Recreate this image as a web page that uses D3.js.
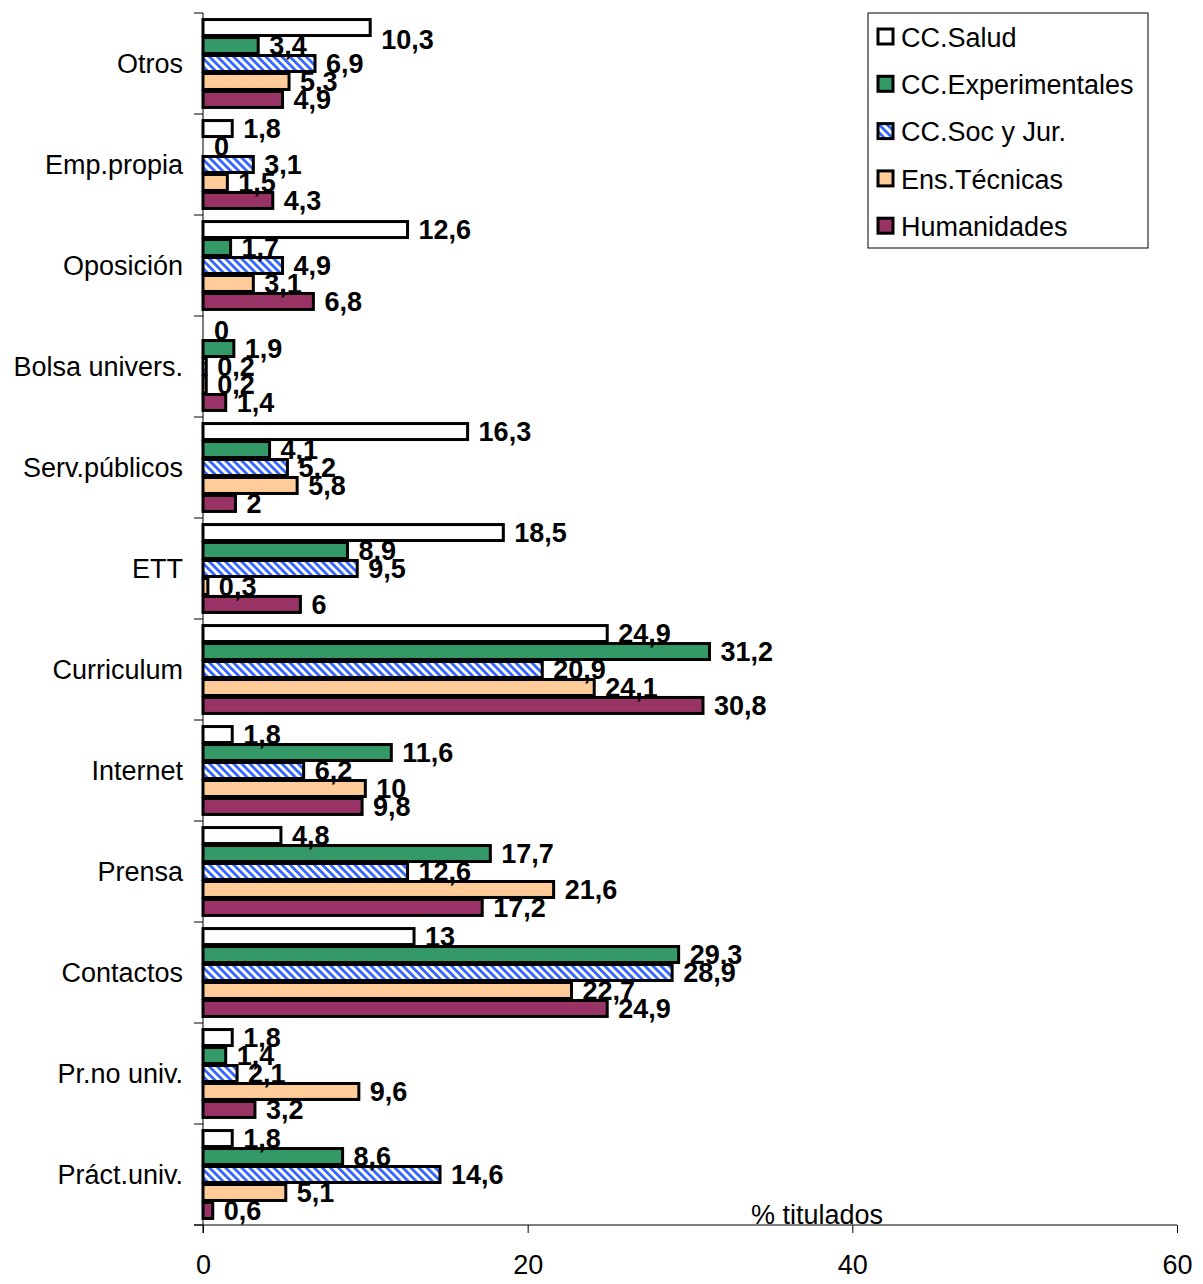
<!DOCTYPE html>
<html>
<head>
<meta charset="utf-8">
<script src="https://cdn.jsdelivr.net/npm/d3@7"></script>
<style>
  body { margin: 0; background: #fff; }
  text { font-family: "Liberation Sans", Arial, sans-serif; }
</style>
</head>
<body>
<div id="chart"></div>
<script>
//Categories (top to bottom) and series
var categories = ["Otros", "Emp.propia", "Oposición", "Bolsa univers.", "Serv.públicos", "ETT",
    "Curriculum", "Internet", "Prensa", "Contactos", "Pr.no univ.", "Práct.univ."];
var seriesNames = ["CC.Salud", "CC.Experimentales", "CC.Soc y Jur.", "Ens.Técnicas", "Humanidades"];

var salud = [10.3, 1.8, 12.6, 0, 16.3, 18.5, 24.9, 1.8, 4.8, 13, 1.8, 1.8];
var experimentales = [3.4, 0, 1.7, 1.9, 4.1, 8.9, 31.2, 11.6, 17.7, 29.3, 1.4, 8.6];
var socJur = [6.9, 3.1, 4.9, 0.2, 5.2, 9.5, 20.9, 6.2, 12.6, 28.9, 2.1, 14.6];
var tecnicas = [5.3, 1.5, 3.1, 0.2, 5.8, 0.3, 24.1, 10, 21.6, 22.7, 9.6, 5.1];
var humanidades = [4.9, 4.3, 6.8, 1.4, 2, 6, 30.8, 9.8, 17.2, 24.9, 3.2, 0.6];

var xTicks = [0, 20, 40, 60];

var seriesValues = [salud, experimentales, socJur, tecnicas, humanidades];
var fills = ["#ffffff", "#339966", "url(#hatch)", "#ffcc99", "#993366"];

var width = 1203, height = 1284;
var margin = {top: 13, left: 203, right: 26, bottom: 59};

var svg = d3.select("#chart").append("svg")
    .attr("width", width)
    .attr("height", height);

//Hatch pattern for CC.Soc y Jur.
var pat = svg.append("defs").append("pattern")
    .attr("id", "hatch")
    .attr("patternUnits", "userSpaceOnUse")
    .attr("width", 5.7)
    .attr("height", 5.7)
    .attr("patternTransform", "rotate(-45)");
pat.append("rect").attr("width", 5.7).attr("height", 5.7).attr("fill", "#fff");
pat.append("rect").attr("width", 2.8).attr("height", 5.7).attr("fill", "#3366ff");

var x = d3.scaleLinear().domain([0, 60]).range([margin.left, width - margin.right]);
var y = d3.scaleBand().domain(categories)
    .range([margin.top, height - margin.bottom])
    .paddingInner(0.11).paddingOuter(0.055);
var yInner = d3.scaleBand().domain(d3.range(seriesNames.length)).range([0, y.bandwidth()]);

var yBottom = height - margin.bottom;

//Bars
var groups = svg.selectAll(".cat")
    .data(categories)
    .enter().append("g")
    .attr("transform", function(d) { return "translate(0," + y(d) + ")"; });

groups.each(function(cat, ci) {
    d3.select(this).selectAll("rect")
        .data(seriesValues.map(function(s, si) { return {si: si, v: s[ci]}; }))
        .enter().append("rect")
        .attr("x", x(0))
        .attr("y", function(d) { return yInner(d.si) + 1; })
        .attr("width", function(d) { return x(d.v) - x(0); })
        .attr("height", yInner.bandwidth() - 2)
        .attr("fill", function(d) { return fills[d.si]; })
        .attr("stroke", "#000")
        .attr("stroke-width", 3);
});

//Value labels (drawn over the bars), kept a bit below the top of the plot
groups.each(function(cat, ci) {
    var top = y(cat);
    d3.select(this).selectAll("text")
        .data(seriesValues.map(function(s, si) { return {si: si, v: s[ci]}; }))
        .enter().append("text")
        .attr("x", function(d) { return x(d.v) + 11; })
        .attr("y", function(d) {
            var cy = yInner(d.si) + yInner.bandwidth() / 2;
            return Math.max(cy, margin.top + 26 - top);
        })
        .attr("dy", "0.36em")
        .style("font-size", "27px")
        .style("font-weight", "bold")
        .text(function(d) { return String(d.v).replace(".", ","); });
});

//Y axis
svg.append("line")
    .attr("x1", x(0)).attr("x2", x(0))
    .attr("y1", margin.top).attr("y2", yBottom + 8)
    .attr("stroke", "#000");
var bounds = categories.map(function(c) { return y(c) - y.step() * y.paddingInner() / 2; });
bounds[0] = margin.top;
bounds.push(yBottom);
svg.selectAll(".ytick")
    .data(bounds)
    .enter().append("line")
    .attr("x1", x(0) - 9).attr("x2", x(0))
    .attr("y1", function(d) { return d; }).attr("y2", function(d) { return d; })
    .attr("stroke", "#000");

svg.selectAll(".catLabel")
    .data(categories)
    .enter().append("text")
    .attr("x", x(0) - 20)
    .attr("y", function(d) { return y(d) + y.bandwidth() / 2; })
    .attr("dy", "0.36em")
    .attr("text-anchor", "end")
    .style("font-size", "27px")
    .text(function(d) { return d; });

//X axis
var xAxis = svg.append("g")
    .attr("transform", "translate(0," + yBottom + ")")
    .call(d3.axisBottom(x).tickValues(xTicks).tickSize(8).tickSizeOuter(0).tickPadding(22));
xAxis.select(".domain").remove();
xAxis.selectAll("text").style("font-size", "27px").attr("font-family", null);
xAxis.append("line")
    .attr("x1", x(0) - 9).attr("x2", x(60))
    .attr("stroke", "#000");

svg.append("text")
    .attr("x", 817)
    .attr("y", yBottom - 1)
    .attr("text-anchor", "middle")
    .style("font-size", "27px")
    .text("% titulados");

//Legend
var legend = svg.append("g").attr("transform", "translate(868,13)");
legend.append("rect")
    .attr("width", 280).attr("height", 235)
    .attr("fill", "#fff").attr("stroke", "#000").attr("stroke-width", 1);

var item = legend.selectAll(".item")
    .data(seriesNames)
    .enter().append("g")
    .attr("transform", function(d, i) { return "translate(0," + (24 + i * 47.3) + ")"; });

item.append("rect")
    .attr("x", 10).attr("y", -8)
    .attr("width", 15).attr("height", 15)
    .attr("fill", function(d, i) { return fills[i]; })
    .attr("stroke", "#000").attr("stroke-width", 3);

item.append("text")
    .attr("x", 33)
    .attr("dy", "0.36em")
    .style("font-size", "27px")
    .text(function(d) { return d; });
</script>
</body>
</html>
